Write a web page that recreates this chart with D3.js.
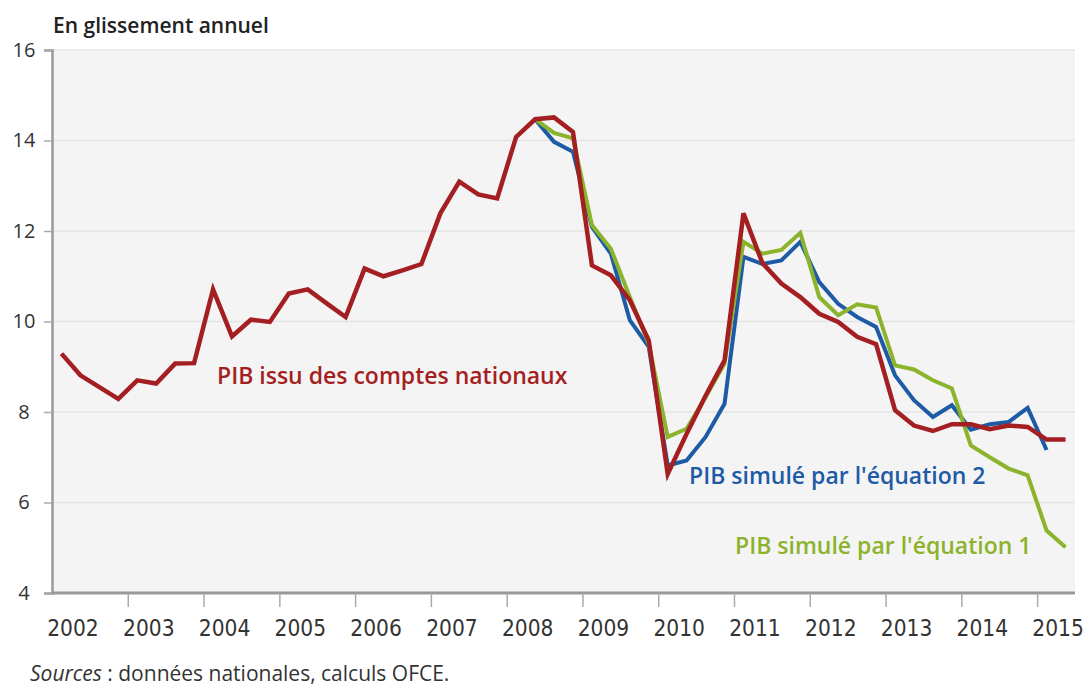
<!doctype html>
<html>
  <head>
    <meta charset="utf-8">
    <script src="https://cdn.jsdelivr.net/npm/d3@7/dist/d3.min.js"></script>
    <style>
      body { margin: 0; background: #ffffff; }
      text { font-family: "Open Sans", sans-serif; }
    </style>
  </head>
  <body>
    <script>
      // quarterly data, 2002Q1 -> 2015Q2
      var years = [2002, 2003, 2004, 2005, 2006, 2007, 2008, 2009, 2010, 2011, 2012, 2013, 2014, 2015];
      var y_ticks = [4, 6, 8, 10, 12, 14, 16];

      // PIB issu des comptes nationaux (from 2002Q1)
      var pib_comptes = [9.29, 8.81, 8.55, 8.29, 8.70, 8.63, 9.07, 9.08,
                         10.71, 9.67, 10.04, 9.99, 10.62, 10.71, 10.40, 10.10,
                         11.17, 11.00, 11.13, 11.27, 12.39, 13.09, 12.81, 12.72,
                         14.08, 14.47, 14.51, 14.19, 11.24, 11.02, 10.47, 9.58,
                         6.63, 7.52, 8.36, 9.14, 12.39, 11.29, 10.84, 10.54,
                         10.17, 9.99, 9.66, 9.50, 8.04, 7.70, 7.58, 7.73,
                         7.73, 7.62, 7.70, 7.67, 7.39, 7.39];

      // PIB simulé par l'équation 2 (from 2008Q2)
      var pib_eq2 = [14.47, 13.97, 13.75, 12.09, 11.50, 10.03, 9.44,
                     6.82, 6.93, 7.45, 8.18, 11.43, 11.27, 11.35, 11.76,
                     10.87, 10.39, 10.10, 9.88, 8.81, 8.26, 7.89, 8.15,
                     7.61, 7.73, 7.78, 8.09, 7.16];

      // PIB simulé par l'équation 1 (from 2008Q2)
      var pib_eq1 = [14.47, 14.17, 14.05, 12.13, 11.61, 10.54, 9.51,
                     7.45, 7.63, 8.33, 9.07, 11.76, 11.50, 11.58, 11.96,
                     10.54, 10.14, 10.38, 10.31, 9.03, 8.94, 8.70, 8.52,
                     7.26, 7.00, 6.75, 6.60, 5.38, 5.01];

      var eq_start = 25; // index of 2008Q2 in the quarter list

      // quarter positions (mid-quarter, in fractional years)
      var quarters = [];
      for (var i = 0; i < pib_comptes.length; i++) {
        quarters.push(2002 + Math.floor(i / 4) + ((i % 4) + 0.5) / 4);
      }

      var w_svg = 1086;
      var h_svg = 686;
      var plot_left = 52, plot_right = 1075, plot_top = 50, plot_bottom = 593;

      var red = "#a41f22", blue = "#1e5ba6", green = "#8bb32b";

      var svg = d3.select("body")
                  .append("svg")
                  .attr("width", w_svg)
                  .attr("height", h_svg);

      var x = d3.scaleLinear().domain([2002, 2015.5]).range([plot_left, plot_right]);
      var y = d3.scaleLinear().domain([4, 16]).range([plot_bottom, plot_top]);

      // plot background
      svg.append("rect")
         .attr("x", plot_left)
         .attr("y", plot_top)
         .attr("width", plot_right - plot_left)
         .attr("height", plot_bottom - plot_top)
         .attr("fill", "#f4f4f4");

      // gridlines
      svg.selectAll("line.grid")
         .data(y_ticks)
         .enter()
         .append("line")
         .attr("class", "grid")
         .attr("x1", plot_left)
         .attr("x2", plot_right)
         .attr("y1", function(d){ return y(d); })
         .attr("y2", function(d){ return y(d); })
         .attr("stroke", "#e4e4e4")
         .attr("stroke-width", 1.5);

      // y axis
      var y_axis = svg.append("g")
         .attr("transform", "translate(" + plot_left + ",0)")
         .call(d3.axisLeft(y).tickValues(y_ticks).tickSize(8).tickFormat(d3.format("d")));
      y_axis.select(".domain").attr("stroke", "#999").attr("stroke-width", 2.5);
      y_axis.selectAll(".tick line").attr("stroke", "#aaa").attr("stroke-width", 1.5);
      y_axis.selectAll(".tick text")
            .attr("x", 24 - plot_left)
            .attr("text-anchor", "middle")
            .attr("fill", "#333")
            .style("font-family", "'Open Sans', sans-serif")
            .style("font-size", "20px");

      // x axis: ticks at year boundaries, labels just right of each boundary
      var x_axis = svg.append("g")
         .attr("transform", "translate(0," + plot_bottom + ")")
         .call(d3.axisBottom(x).tickValues(years.slice(1)).tickSize(14).tickFormat(""));
      x_axis.select(".domain").attr("stroke", "#999").attr("stroke-width", 3)
            .attr("d", "M" + plot_left + ",0H" + plot_right);
      x_axis.selectAll(".tick line").attr("stroke", "#aaa").attr("stroke-width", 1.5);

      svg.selectAll("text.year")
         .data(years)
         .enter()
         .append("text")
         .attr("class", "year")
         .attr("x", function(d){ return x(d) + 21; })
         .attr("y", 636)
         .attr("text-anchor", "middle")
         .attr("fill", "#333")
         .style("font-family", "'DejaVu Sans Condensed', 'DejaVu Sans', sans-serif")
         .style("font-stretch", "condensed")
         .style("font-size", "22.5px")
         .text(function(d){ return d; });

      // lines
      var line = d3.line()
                   .x(function(d){ return x(d[0]); })
                   .y(function(d){ return y(d[1]); });

      function series(vals, start) {
        return vals.map(function(v, i){ return [quarters[start + i], v]; });
      }

      svg.append("path")
         .attr("d", line(series(pib_eq2, eq_start)))
         .attr("fill", "none")
         .attr("stroke", blue)
         .attr("stroke-width", 4);

      svg.append("path")
         .attr("d", line(series(pib_eq1, eq_start)))
         .attr("fill", "none")
         .attr("stroke", green)
         .attr("stroke-width", 4);

      svg.append("path")
         .attr("d", line(series(pib_comptes, 0)))
         .attr("fill", "none")
         .attr("stroke", red)
         .attr("stroke-width", 4.5);

      // labels
      var labels = [
        {text: "PIB issu des comptes nationaux", x: 217, y: 384, color: red},
        {text: "PIB simulé par l'équation 2", x: 689, y: 484, color: blue},
        {text: "PIB simulé par l'équation 1", x: 735, y: 554, color: green}
      ];
      svg.selectAll("text.lab")
         .data(labels)
         .enter()
         .append("text")
         .attr("class", "lab")
         .attr("x", function(d){ return d.x; })
         .attr("y", function(d){ return d.y; })
         .attr("fill", function(d){ return d.color; })
         .style("font-size", "23px")
         .style("font-weight", "600")
         .text(function(d){ return d.text; });

      // title and source
      svg.append("text")
         .attr("x", 53)
         .attr("y", 33)
         .attr("fill", "#222")
         .style("font-size", "21px")
         .style("font-weight", "600")
         .text("En glissement annuel");

      var src = svg.append("text")
         .attr("x", 30)
         .attr("y", 681)
         .attr("fill", "#333")
         .style("font-size", "21px");
      src.append("tspan").style("font-style", "italic").text("Sources");
      src.append("tspan").text(" : données nationales, calculs OFCE.");
    </script>
  </body>
</html>
